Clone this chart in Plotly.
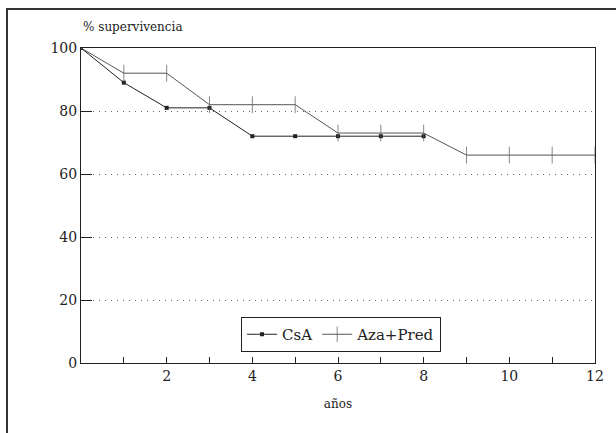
import plotly.graph_objects as go

# Data
csa_years = [0, 1, 2, 3, 4, 5, 6, 7, 8]
csa_surv = [100, 89, 81, 81, 72, 72, 72, 72, 72]
aza_years = [0, 1, 2, 3, 4, 5, 6, 7, 8, 9, 10, 11, 12]
aza_surv = [100, 92, 92, 82, 82, 82, 73, 73, 73, 66, 66, 66, 66]
x_tick_vals = [2, 4, 6, 8, 10, 12]
y_tick_vals = [0, 20, 40, 60, 80, 100]

FONT = "DejaVu Serif"
INK = "#222222"

fig = go.Figure()
fig.add_trace(go.Scatter(
    x=csa_years, y=csa_surv, name="CsA", mode="lines+markers",
    line=dict(color=INK, width=1),
    marker=dict(symbol="square", size=4, color=INK),
))
fig.add_trace(go.Scatter(
    x=aza_years, y=aza_surv, name="Aza+Pred", mode="lines+markers",
    line=dict(color="#555555", width=1),
    marker=dict(symbol="line-ns-open", size=[0] + [12] * (len(aza_years) - 1),
                line=dict(color="#444444", width=1)),
))

W, H = 616, 433
L, R, T, B = 81, 21, 48, 70
pw, ph = W - L - R, H - T - B

def px2paper(px, py):
    return (px - L) / pw, (H - B - py) / ph

fx0, fy0 = px2paper(7, 9)
fx1, fy1 = px2paper(640, 460)

fig.update_layout(
    width=W, height=H,
    margin=dict(l=L, r=R, t=T, b=B),
    paper_bgcolor="white", plot_bgcolor="white",
    font=dict(family=FONT, color=INK, size=13),
    showlegend=True,
    legend=dict(
        orientation="h", x=px2paper(241, 0)[0], y=px2paper(0, 317)[1],
        xanchor="left", yanchor="top",
        bgcolor="white", bordercolor=INK, borderwidth=1,
        font=dict(family=FONT, size=15, color=INK),
        itemwidth=30, tracegroupgap=0,
    ),
    xaxis=dict(
        range=[0, 12], tickvals=x_tick_vals, ticks="inside", ticklen=6,
        tickcolor=INK, showline=True, linecolor=INK, linewidth=1, mirror=True,
        showgrid=False, zeroline=False,
        tickfont=dict(family=FONT, size=14),
        minor=dict(dtick=1, tick0=0, ticks="inside", ticklen=6, tickcolor=INK, showgrid=False),
        title=dict(text="años", font=dict(family=FONT, size=12), standoff=16),
    ),
    yaxis=dict(
        range=[0, 100], tickvals=y_tick_vals, ticks="inside", ticklen=11,
        tickcolor=INK, showline=True, linecolor=INK, linewidth=1, mirror=True,
        showgrid=True, gridcolor="#666666", griddash="1px,5px", gridwidth=1,
        zeroline=False, tickfont=dict(family=FONT, size=14),
    ),
    annotations=[dict(
        text="% supervivencia", xref="paper", yref="paper",
        x=0, y=px2paper(0, 27)[1], xanchor="left", yanchor="middle",
        showarrow=False, font=dict(family=FONT, size=12, color=INK),
    )],
    shapes=[dict(
        type="rect", xref="paper", yref="paper",
        x0=fx0, y0=fy1, x1=fx1, y1=fy0,
        line=dict(color="#333333", width=2), layer="below",
    )],
)

fig.write_html(
    "out.html",
    config={"displayModeBar": False},
    post_script="document.body.style.margin='0';document.body.style.overflow='hidden';",
)
